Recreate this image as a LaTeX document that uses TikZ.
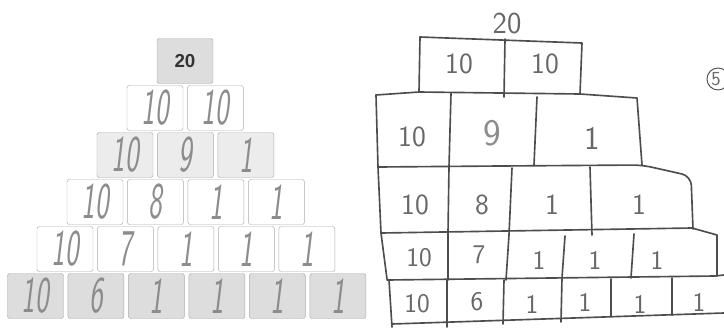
\documentclass[tikz,border=0pt]{standalone}
\usepackage{fontspec}
\usepackage{graphicx}
\usetikzlibrary{positioning}
\newfontfamily\printfont{Liberation Sans}
\definecolor{PyrBorder}{HTML}{ABABAB}
\definecolor{PyrShade}{HTML}{DDDDDD}
\definecolor{PyrPale}{HTML}{ECECEC}
\definecolor{PyrPencil}{HTML}{8C8C8C}
\definecolor{PyrInk}{HTML}{333333}
\definecolor{PyrLine}{HTML}{4D4D4D}
\newcommand{\lefthand}[1]{\scalebox{0.56}[1]{\fontsize{44}{44}\selectfont\sffamily\slshape #1}}

\begin{document}
\begin{tikzpicture}[
  x=0.03cm, y=-0.03cm,
  node distance=0.12cm,
  cell/.style={draw=PyrBorder, fill=#1, rounded corners=2pt, minimum width=1.68cm, minimum height=1.35cm, inner sep=0pt, text=PyrPencil},
  cell/.default=white,
  sketch/.style={draw=PyrLine, line width=1.4pt, line join=round, line cap=round},
  handr/.style={text=PyrLine!85, inner sep=0pt, font=\fontsize{#1}{#1}\selectfont\sffamily},
  handr/.default=25
]
\useasboundingbox (0,0) rectangle (724,327);

% left: printed pyramid
\node[cell=PyrShade, text=PyrInk, font=\printfont\bfseries\fontsize{16}{16}\selectfont] (L11) at (185,61) {20};

\node[cell] (L21) at (155,108) {\lefthand{10}};
\node[cell, right=of L21] (L22) {\lefthand{10}};

\node[cell=PyrPale] (L31) at (125,155) {\lefthand{10}};
\node[cell=PyrPale, right=of L31] (L32) {\lefthand{9}};
\node[cell=PyrPale, right=of L32] (L33) {\lefthand{1}};

\node[cell] (L41) at (95,202) {\lefthand{10}};
\node[cell, right=of L41] (L42) {\lefthand{8}};
\node[cell, right=of L42] (L43) {\lefthand{1}};
\node[cell, right=of L43] (L44) {\lefthand{1}};

\node[cell] (L51) at (65,249) {\lefthand{10}};
\node[cell, right=of L51] (L52) {\lefthand{7}};
\node[cell, right=of L52] (L53) {\lefthand{1}};
\node[cell, right=of L53] (L54) {\lefthand{1}};
\node[cell, right=of L54] (L55) {\lefthand{1}};

\node[cell=PyrShade] (L61) at (35.5,296) {\lefthand{10}};
\node[cell=PyrShade, right=of L61] (L62) {\lefthand{6}};
\node[cell=PyrShade, right=of L62] (L63) {\lefthand{1}};
\node[cell=PyrShade, right=of L63] (L64) {\lefthand{1}};
\node[cell=PyrShade, right=of L64] (L65) {\lefthand{1}};
\node[cell=PyrShade, right=of L65] (L66) {\lefthand{1}};

% right: hand-drawn pyramid
\draw[sketch] (420,37) -- (582,43) -- (580,94);
\draw[sketch] (420,37) -- (419,92);
\draw[sketch] (505,39) -- (504,97);

\draw[sketch] (376,95) -- (419,92) -- (580,94) -- (637,98) -- (642,165);
\draw[sketch] (376,95) -- (378,167);
\draw[sketch] (451,93) -- (449,167);
\draw[sketch] (537,97) -- (534,165);
\draw[sketch, rounded corners=8pt] (378,167) -- (500,166) -- (642,165) -- (691,176) -- (693,229);

\draw[sketch] (378,167) -- (381,233);
\draw[sketch] (449,167) -- (448,233);
\draw[sketch] (512,168) -- (509,235);
\draw[sketch] (590,167) -- (592,235);
\draw[sketch] (381,233) -- (692,228) -- (717,235) -- (717,276);

\draw[sketch] (381,233) -- (387,279);
\draw[sketch] (448,233) -- (448,280);
\draw[sketch] (509,235) -- (506,280);
\draw[sketch] (565,236) -- (562,278);
\draw[sketch] (634,234) -- (631,278);
\draw[sketch] (387,280) -- (715,276) -- (724,275);

\draw[sketch] (389,280) -- (392,327);
\draw[sketch] (447,280) -- (447,327);
\draw[sketch] (504,280) -- (503,324);
\draw[sketch] (562,278) -- (561,322);
\draw[sketch] (611,279) -- (611,316);
\draw[sketch] (672,278) -- (672,315);
\draw[sketch] (392,324) -- (724,313);

\node[handr=26] (Rsum) at (507,24) {20};
\node[handr] (R11) at (459,64) {10};
\node[handr] (R12) at (545,64) {10};

\node[handr] (R21) at (412,137) {10};
\node[handr=32, text=PyrPencil] (R22) at (492,133) {9};
\node[handr=28] (R23) at (592,138) {1};

\node[handr] (R31) at (415,205) {10};
\node[handr] (R32) at (482,205) {8};
\node[handr] (R33) at (552,205) {1};
\node[handr] (R34) at (639,205) {1};

\node[handr=23] (R41) at (419,258) {10};
\node[handr=23] (R42) at (479,255) {7};
\node[handr=23] (R43) at (539,260) {1};
\node[handr=23] (R44) at (595,260) {1};
\node[handr=23] (R45) at (657,260) {1};

\node[handr=23] (R51) at (417,304) {10};
\node[handr=23] (R52) at (477,302) {6};
\node[handr=23] (R53) at (532,304) {1};
\node[handr=23] (R54) at (585,302) {1};
\node[handr=23] (R55) at (640,304) {1};
\node[handr=23] (R56) at (699,302) {1};

\node[handr=17] (Rtask) at (716,79) {5};
\draw[draw=PyrLine, line width=0.8pt] (Rtask.center) ++(2,0) circle[radius=11];
\end{tikzpicture}
\end{document}
